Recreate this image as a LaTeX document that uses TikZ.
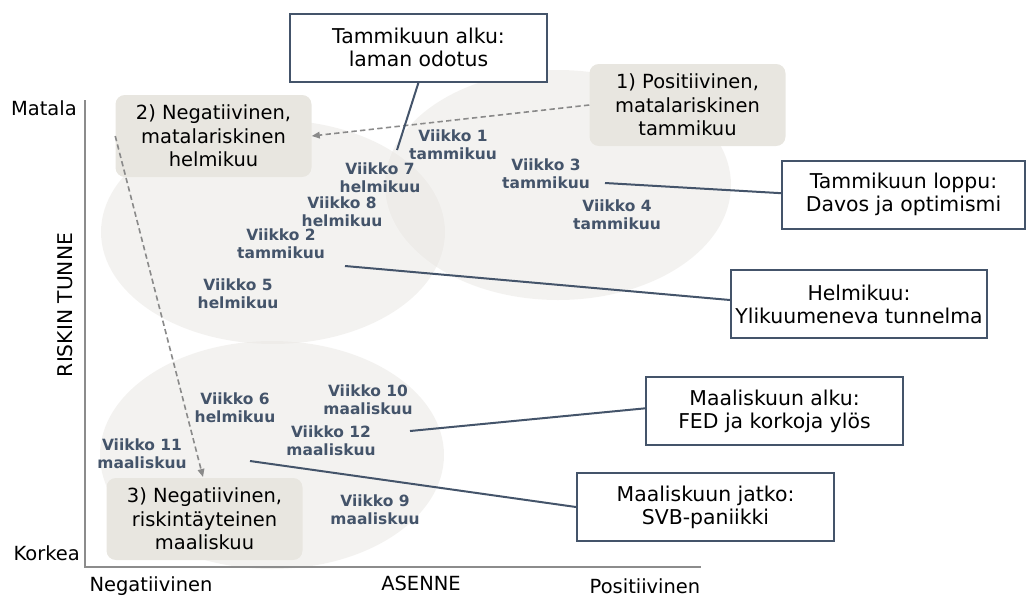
\documentclass[tikz,border=0pt]{standalone}
\usepackage{fontspec}
\setmainfont{DejaVu Sans}
\usetikzlibrary{arrows.meta}
\definecolor{navy}{HTML}{44546A}
\definecolor{ellfill}{HTML}{E8E6E2}
\definecolor{boxfill}{HTML}{E8E6E0}
\definecolor{axisgray}{HTML}{8C8C8C}
\definecolor{dashgray}{HTML}{8A8A8A}
\begin{document}
\begin{tikzpicture}[x=0.75pt,y=-0.75pt,
  every node/.style={font=\fontsize{14.6}{17.5}\selectfont, align=center, inner sep=0pt},
  zone/.style={fill=ellfill, fill opacity=0.5},
  phasebox/.style={fill=boxfill, rounded corners=7pt, minimum width=147pt, minimum height=61.5pt},
  notebox/.style={draw=navy, line width=1.5pt, fill=white, minimum height=51pt, font=\fontsize{15.3}{17.3}\selectfont},
  week/.style={font=\fontsize{11.6}{13.2}\selectfont\bfseries, text=navy},
  lead/.style={draw=navy, line width=1.5pt},
  flow/.style={draw=dashgray, line width=1.2pt, dash pattern=on 4pt off 2.5pt, -{Triangle[length=6pt,width=5pt]}},
  axisline/.style={draw=axisgray, line width=1.5pt}]
\useasboundingbox (0,0) rectangle (1027,597);

% zones
\fill[zone] (273,232) ellipse [x radius=172, y radius=112];
\fill[zone] (558,185) ellipse [x radius=173, y radius=115];
\fill[zone] (272,455) ellipse [x radius=172, y radius=114];

% axes
\coordinate (ytop) at (85,100);
\coordinate (orig) at (85,567);
\coordinate (xend) at (701,567);
\draw[axisline] (ytop) -- (orig) -- (xend);
\node[anchor=east] (matala) at (77,108) {Matala};
\node[anchor=east] (korkea) at (80,553) {Korkea};
\node[rotate=90, font=\fontsize{15.2}{17.5}\selectfont] (riski) at (65,305) {RISKIN TUNNE};
\node (neg) at (151,586) {Negatiivinen};
\node (asenne) at (421,583) {ASENNE};
\node (pos) at (645,586) {Positiivinen};

% phase boxes
\node[phasebox] (p2) at (213.5,136) {2) Negatiivinen,\\matalariskinen\\helmikuu};
\node[phasebox] (p1) at (687.5,105) {1) Positiivinen,\\matalariskinen\\tammikuu};
\node[phasebox] (p3) at (204.5,519) {3) Negatiivinen,\\riskintäyteinen\\maaliskuu};

% flow arrows
\draw[flow] (p1.west) -- (p2.east);
\draw[flow] (p2.west) -- (203,477);

% week labels
\node[week] (w1) at (453,145) {Viikko 1\\tammikuu};
\node[week] (w7) at (380,178) {Viikko 7\\helmikuu};
\node[week] (w3) at (546,174) {Viikko 3\\tammikuu};
\node[week] (w4) at (617,215) {Viikko 4\\tammikuu};
\node[week] (w8) at (342,212) {Viikko 8\\helmikuu};
\node[week] (w2) at (281,244) {Viikko 2\\tammikuu};
\node[week] (w5) at (238,294) {Viikko 5\\helmikuu};
\node[week] (w6) at (235,408) {Viikko 6\\helmikuu};
\node[week] (w10) at (368,400) {Viikko 10\\maaliskuu};
\node[week] (w12) at (331,441) {Viikko 12\\maaliskuu};
\node[week] (w11) at (142,454) {Viikko 11\\maaliskuu};
\node[week] (w9) at (375,510) {Viikko 9\\maaliskuu};

% note boxes
\node[notebox, minimum width=192.75pt] (alku) at (418.5,47.5) {Tammikuun alku:\\laman odotus};
\node[notebox, minimum width=182.25pt] (loppu) at (903.5,194.5) {Tammikuun loppu:\\Davos ja optimismi};
\node[notebox, minimum width=192pt] (helmi) at (859,304) {Helmikuu:\\Ylikuumeneva tunnelma};
\node[notebox, minimum width=192.75pt] (malku) at (774.5,411) {Maaliskuun alku:\\FED ja korkoja ylös};
\node[notebox, minimum width=192.75pt] (mjatko) at (705.5,507) {Maaliskuun jatko:\\SVB-paniikki};

% leader lines
\coordinate (e1) at (397,150);
\coordinate (e2) at (605,183);
\coordinate (e3) at (345,266);
\coordinate (e4) at (410,431);
\coordinate (e5) at (250,461);
\draw[lead] (alku.south) -- (e1);
\draw[lead] ([yshift=1pt]loppu.west) -- (e2);
\draw[lead] ([yshift=3pt]helmi.west) -- (e3);
\draw[lead] ([yshift=2pt]malku.west) -- (e4);
\draw[lead] (mjatko.west) -- (e5);
\end{tikzpicture}
\end{document}
